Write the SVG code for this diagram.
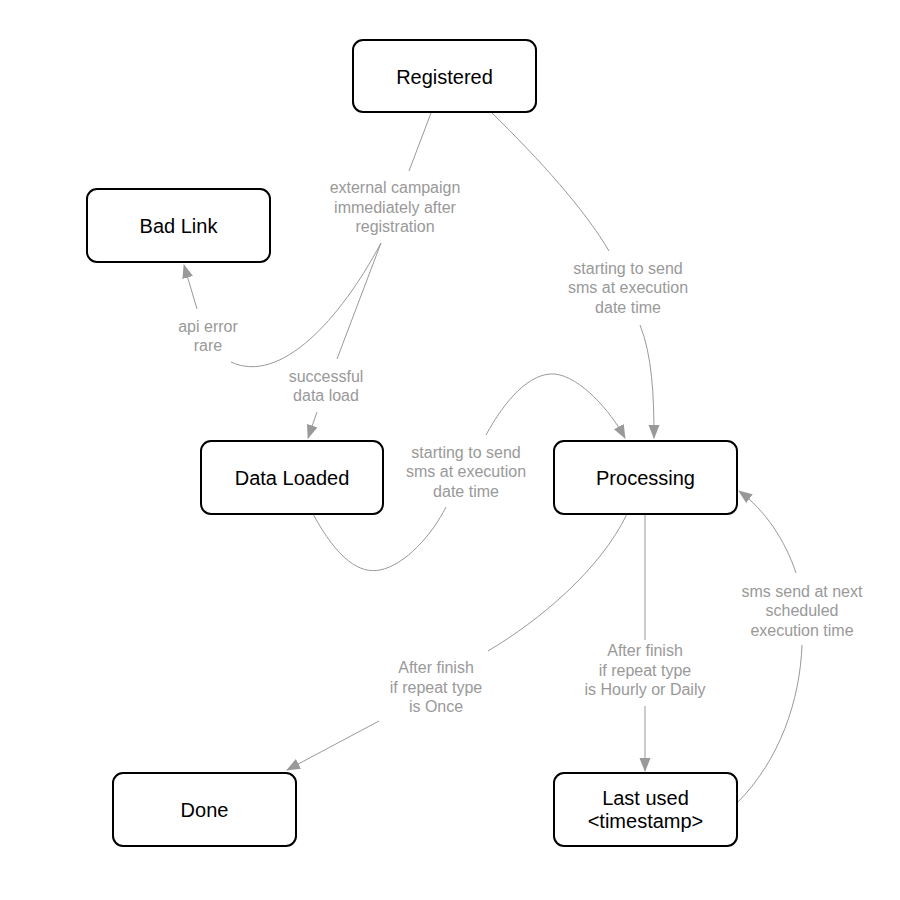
<svg xmlns="http://www.w3.org/2000/svg" width="900" height="900" viewBox="0 0 900 900">
<defs>
<style>
.node rect{fill:#fff;stroke:#000;stroke-width:2}
.node text{font-family:"Liberation Sans",Arial,sans-serif;font-size:20px;fill:#000;text-anchor:middle}
.edges path{fill:none;stroke:#999;stroke-width:1}
.lbl{font-family:"Liberation Sans",Arial,sans-serif;font-size:16px;fill:#999;text-anchor:middle}
</style>
<marker id="arr" markerWidth="15" markerHeight="12" refX="13" refY="5.5" orient="auto" markerUnits="userSpaceOnUse">
<path d="M0,0 L14,5.5 L0,11 z" fill="#999"/>
</marker>
</defs>
<rect width="900" height="900" fill="#fff"/>
<g class="edges" id="connectors">
<path d="M431,113 L409,171"/>
<path d="M381,243 L337,359"/>
<path d="M317,412 L308,438" marker-end="url(#arr)"/>
<path d="M381,243 C340,320 280,385 231,362"/>
<path d="M197,309 L184,265" marker-end="url(#arr)"/>
<path d="M492,113 C540,160 585,210 609,251"/>
<path d="M640,325 C652,355 654,395 654,438" marker-end="url(#arr)"/>
<path d="M313,514 C338,560 360,574 380,570 C405,565 432,535 446,507"/>
<path d="M486,435 C505,400 530,372 555,374 C580,377 610,410 625,438" marker-end="url(#arr)"/>
<path d="M627,514 C600,570 540,620 488,651"/>
<path d="M379,721 L287,770" marker-end="url(#arr)"/>
<path d="M645,514 L645,640"/>
<path d="M645,706 L645,771" marker-end="url(#arr)"/>
<path d="M737,803 C780,760 800,700 802,645"/>
<path d="M796,573 C785,540 765,510 739,491" marker-end="url(#arr)"/>
<g id="edge-labels">
<text class="lbl" x="395" y="193">external campaign</text>
<text class="lbl" x="395" y="212.5">immediately after</text>
<text class="lbl" x="395" y="232">registration</text>
<text class="lbl" x="208" y="332">api error</text>
<text class="lbl" x="208" y="351">rare</text>
<text class="lbl" x="326" y="382">successful</text>
<text class="lbl" x="326" y="401">data load</text>
<text class="lbl" x="628" y="273.5">starting to send</text>
<text class="lbl" x="628" y="293">sms at execution</text>
<text class="lbl" x="628" y="312.5">date time</text>
<text class="lbl" x="466" y="457.5">starting to send</text>
<text class="lbl" x="466" y="477">sms at execution</text>
<text class="lbl" x="466" y="496.5">date time</text>
<text class="lbl" x="436" y="673">After finish</text>
<text class="lbl" x="436" y="692.5">if repeat type</text>
<text class="lbl" x="436" y="712">is Once</text>
<text class="lbl" x="645" y="656">After finish</text>
<text class="lbl" x="645" y="675.5">if repeat type</text>
<text class="lbl" x="645" y="695">is Hourly or Daily</text>
<text class="lbl" x="802" y="596.5">sms send at next</text>
<text class="lbl" x="802" y="616">scheduled</text>
<text class="lbl" x="802" y="635.5">execution time</text>
</g>
</g>
<g class="node" id="registered"><rect x="353" y="40" width="183" height="72" rx="10"/><text x="444.5" y="84">Registered</text></g>
<g class="node" id="badlink"><rect x="87" y="189" width="183" height="73" rx="10"/><text x="178.5" y="233">Bad Link</text></g>
<g class="node" id="dataloaded"><rect x="201" y="441" width="182" height="73" rx="10"/><text x="292" y="485">Data Loaded</text></g>
<g class="node" id="processing"><rect x="554" y="441" width="183" height="73" rx="10"/><text x="645.5" y="485">Processing</text></g>
<g class="node" id="done"><rect x="113" y="773" width="183" height="73" rx="10"/><text x="204.5" y="817">Done</text></g>
<g class="node" id="lastused"><rect x="554" y="773" width="183" height="73" rx="10"/><text x="645.5" y="805">Last used</text><text x="645.5" y="828">&lt;timestamp&gt;</text></g>
</svg>
